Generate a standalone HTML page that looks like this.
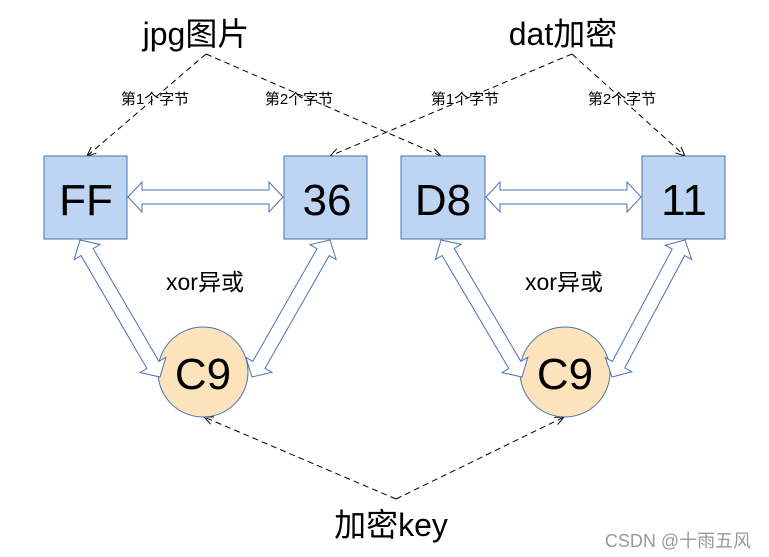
<!DOCTYPE html>
<html><head><meta charset="utf-8"><style>
html,body{margin:0;padding:0;background:#fff;}
svg{display:block;}
text{font-family:"Liberation Sans","Noto Sans CJK SC",sans-serif;}
</style></head><body>
<svg id="s" width="769" height="557" viewBox="0 0 769 557" xmlns="http://www.w3.org/2000/svg">
<defs>
<marker id="ah" markerWidth="12" markerHeight="10" refX="10" refY="5" orient="auto" markerUnits="userSpaceOnUse">
<path d="M1,1 L10,5 L1,9" fill="none" stroke="#000" stroke-width="1"/>
</marker>
</defs>
<g fill="none" stroke="#000" stroke-width="1" stroke-dasharray="6,4">
<line x1="206" y1="54" x2="87" y2="156" marker-end="url(#ah)"/>
<line x1="206" y1="54" x2="441" y2="156" marker-end="url(#ah)"/>
<line x1="572" y1="54" x2="330" y2="156" marker-end="url(#ah)"/>
<line x1="572" y1="54" x2="685" y2="156" marker-end="url(#ah)"/>
<line x1="396" y1="499" x2="204" y2="417" marker-end="url(#ah)"/>
<line x1="396" y1="499" x2="564" y2="417" marker-end="url(#ah)"/>
</g>
<g fill="#bdd4f2" stroke="#4a72b0" stroke-width="1">
<rect x="44" y="156" width="83" height="83"/>
<rect x="284" y="156" width="83" height="83"/>
<rect x="401" y="156" width="84" height="83"/>
<rect x="642" y="156" width="83" height="83"/>
<circle cx="203" cy="372" r="45" fill="#fde3bb"/>
<circle cx="565" cy="372" r="45" fill="#fde3bb"/>
</g>
<g id="arrows" fill="#fff" stroke="#4a72b0" stroke-width="1"></g>
<g fill="#000" font-size="44" text-anchor="middle">
<text x="86" y="215">FF</text>
<text x="327" y="215">36</text>
<text x="443" y="215">D8</text>
<text x="684" y="215">11</text>
<text x="203" y="389">C9</text>
<text x="565" y="389">C9</text>
</g>
<g fill="#000" font-size="32" text-anchor="middle">
<text x="196" y="45">jpg图片</text>
<text x="563" y="45">dat加密</text>
<text x="391" y="536">加密key</text>
</g>
<g fill="#000" font-size="23" text-anchor="middle">
<text x="205" y="290">xor异或</text>
<text x="564" y="290">xor异或</text>
</g>
<g fill="#000" font-size="15" text-anchor="middle">
<text x="155" y="104">第1个字节</text>
<text x="299" y="104">第2个字节</text>
<text x="465" y="104">第1个字节</text>
<text x="622" y="104">第2个字节</text>
</g>
<text x="678" y="547" font-size="18" fill="#999" text-anchor="middle">CSDN @十雨五风</text>
</svg>
<script>
function dbl(x1,y1,x2,y2){
 var dx=x2-x1,dy=y2-y1,L=Math.hypot(dx,dy),ux=dx/L,uy=dy/L,nx=-uy,ny=ux;
 var w=7,hw=15,hl=14;
 function p(a,b){return [x1+ux*a+nx*b, y1+uy*a+ny*b].map(function(v){return v.toFixed(1)}).join(',');}
 var pts=[p(0,0),p(hl,hw),p(hl,w),p(L-hl,w),p(L-hl,hw),p(L,0),p(L-hl,-hw),p(L-hl,-w),p(hl,-w),p(hl,-hw)];
 var e=document.createElementNS('http://www.w3.org/2000/svg','polygon');
 e.setAttribute('points',pts.join(' '));
 document.getElementById('arrows').appendChild(e);
}
dbl(128,197,283,197);
dbl(486,197,641,197);
dbl(80,240,160,377);
dbl(330,240,252,377);
dbl(441,240,522,377);
dbl(685,240,612,377);
</script>
</body></html>
